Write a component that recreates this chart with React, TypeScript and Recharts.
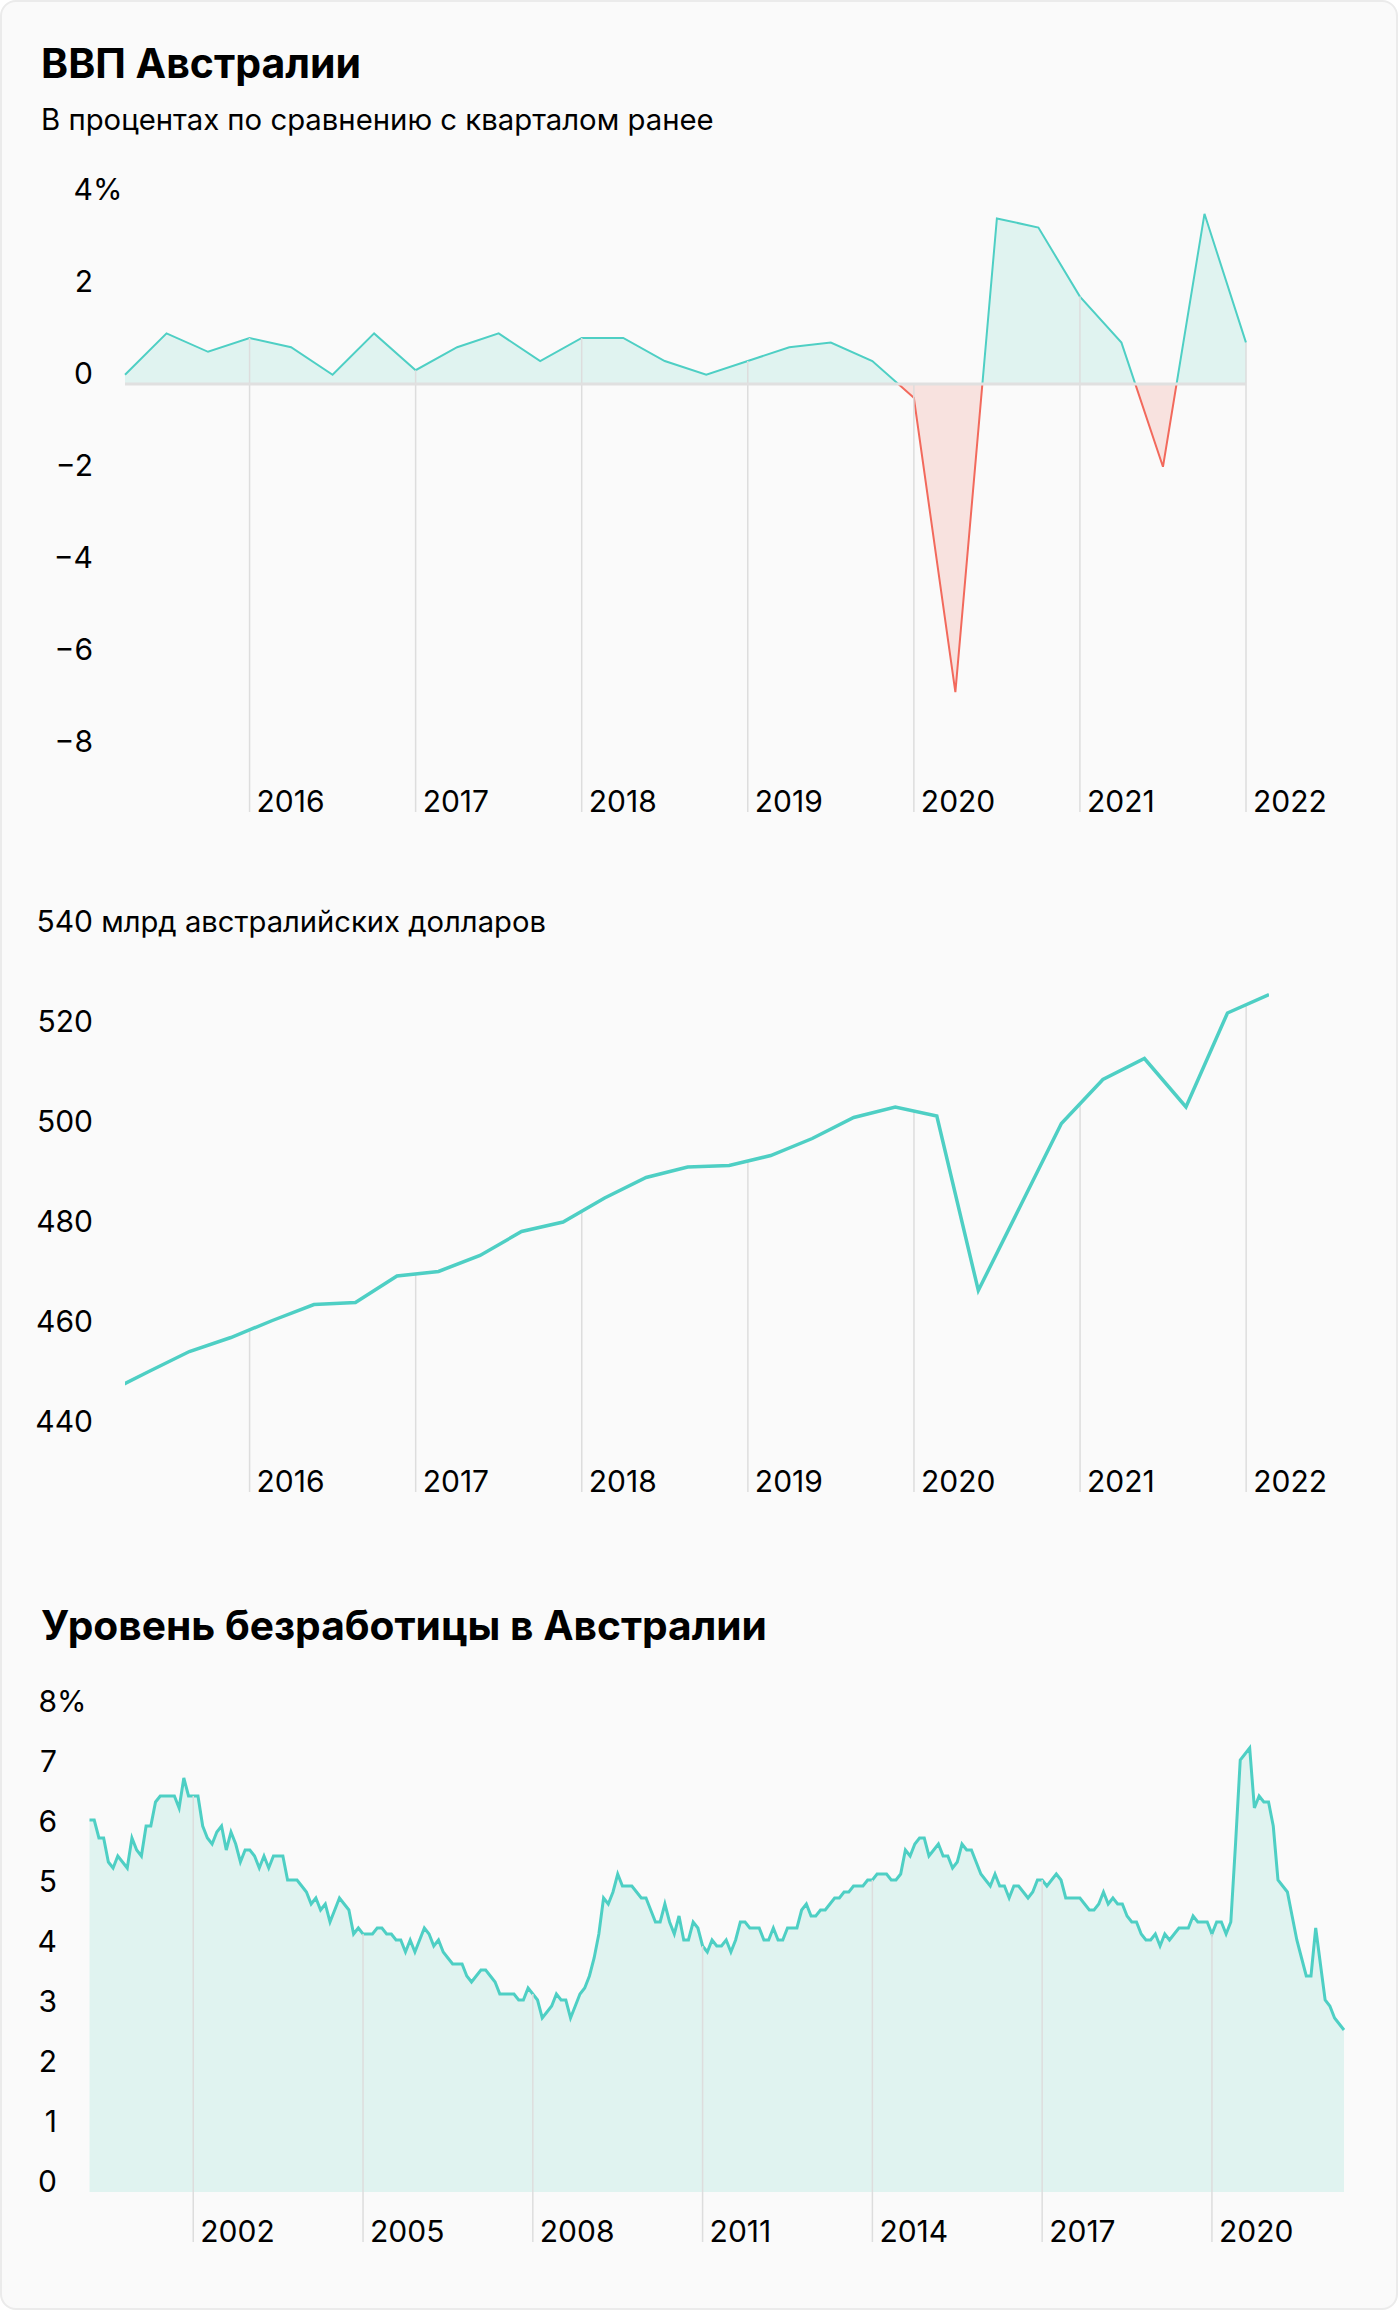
import React from 'react';
import { AreaChart, Area, LineChart, Line, XAxis, YAxis, ReferenceLine } from 'recharts';

const FONT = 'Inter, "Noto Sans", sans-serif';
const TEXT = '#000000';
const TEAL = '#4ecfc4';
const TEAL_FILL = '#e0f3f0';
const RED = '#f2695c';
const RED_FILL = '#f8e2df';
const GRID = '#dddddd';
const ZERO = '#e0e0e0';

// ---- GDP, % q/q ----
const gdpQuarters = [
  '2015 Q2', '2015 Q3', '2015 Q4',
  '2016 Q1', '2016 Q2', '2016 Q3', '2016 Q4',
  '2017 Q1', '2017 Q2', '2017 Q3', '2017 Q4',
  '2018 Q1', '2018 Q2', '2018 Q3', '2018 Q4',
  '2019 Q1', '2019 Q2', '2019 Q3', '2019 Q4',
  '2020 Q1', '2020 Q2', '2020 Q3', '2020 Q4',
  '2021 Q1', '2021 Q2', '2021 Q3', '2021 Q4',
  '2022 Q1',
];
const gdpGrowth = [
  0.2, 1.1, 0.7,
  1.0, 0.8, 0.2, 1.1,
  0.3, 0.8, 1.1, 0.5,
  1.0, 1.0, 0.5, 0.2,
  0.5, 0.8, 0.9, 0.5,
  -0.3, -6.7, 3.6, 3.4,
  1.9, 0.9, -1.8, 3.7,
  0.9,
];
const gdpGrowthTicks = [-8, -6, -4, -2, 0, 2, 4];

// ---- GDP level, bn AUD (dated mid-quarter) ----
const gdpLevelQuarters = [
  '2015 Q1', '2015 Q2', '2015 Q3', '2015 Q4',
  '2016 Q1', '2016 Q2', '2016 Q3', '2016 Q4',
  '2017 Q1', '2017 Q2', '2017 Q3', '2017 Q4',
  '2018 Q1', '2018 Q2', '2018 Q3', '2018 Q4',
  '2019 Q1', '2019 Q2', '2019 Q3', '2019 Q4',
  '2020 Q1', '2020 Q2', '2020 Q3', '2020 Q4',
  '2021 Q1', '2021 Q2', '2021 Q3', '2021 Q4',
  '2022 Q1',
];
const gdpLevel = [
  447.8, 452.0, 456.1, 458.9,
  462.3, 465.5, 465.9, 471.2,
  472.1, 475.3, 480.1, 482.0,
  486.8, 490.9, 493.0, 493.3,
  495.3, 498.7, 502.9, 505.0,
  503.2, 468.3, 485.0, 501.7,
  510.5, 514.7, 505.0, 523.8,
  527.5,
];
const gdpLevelTicks = [440, 460, 480, 500, 520, 540];
const MID_QUARTER = 0.55;

const gdpYears = ['2016', '2017', '2018', '2019', '2020', '2021', '2022'];

// ---- Unemployment, monthly from March 2000 ----
const unemploymentStartYear = 2000;
const unemploymentStartMonth = 3;
const unemployment = [
  6.2, 6.2, 5.9, 5.9, 5.5, 5.4, 5.6, 5.5, 5.4, 5.9, 5.7, 5.6,
  6.1, 6.1, 6.5, 6.6, 6.6, 6.6, 6.6, 6.4, 6.9, 6.6, 6.6, 6.6,
  6.1, 5.9, 5.8, 6.0, 6.1, 5.7, 6.0, 5.8, 5.5, 5.7, 5.7, 5.6,
  5.4, 5.6, 5.4, 5.6, 5.6, 5.6, 5.2, 5.2, 5.2, 5.1, 5.0, 4.8,
  4.9, 4.7, 4.8, 4.5, 4.7, 4.9, 4.8, 4.7, 4.3, 4.4, 4.3, 4.3,
  4.3, 4.4, 4.4, 4.3, 4.3, 4.2, 4.2, 4.0, 4.2, 4.0, 4.2, 4.4,
  4.3, 4.1, 4.2, 4.0, 3.9, 3.8, 3.8, 3.8, 3.6, 3.5, 3.6, 3.7,
  3.7, 3.6, 3.5, 3.3, 3.3, 3.3, 3.3, 3.2, 3.2, 3.4, 3.3, 3.2,
  2.9, 3.0, 3.1, 3.3, 3.2, 3.2, 2.9, 3.1, 3.3, 3.4, 3.6, 3.9,
  4.3, 4.9, 4.8, 5.0, 5.3, 5.1, 5.1, 5.1, 5.0, 4.9, 4.9, 4.7,
  4.5, 4.5, 4.8, 4.5, 4.3, 4.6, 4.2, 4.2, 4.5, 4.4, 4.1, 4.0,
  4.2, 4.1, 4.1, 4.2, 4.0, 4.2, 4.5, 4.5, 4.4, 4.4, 4.4, 4.2,
  4.2, 4.4, 4.2, 4.2, 4.4, 4.4, 4.4, 4.7, 4.8, 4.6, 4.6, 4.7,
  4.7, 4.8, 4.9, 4.9, 5.0, 5.0, 5.1, 5.1, 5.1, 5.2, 5.2, 5.3,
  5.3, 5.3, 5.2, 5.2, 5.3, 5.7, 5.6, 5.8, 5.9, 5.9, 5.6, 5.7,
  5.8, 5.6, 5.6, 5.4, 5.5, 5.8, 5.7, 5.7, 5.5, 5.3, 5.2, 5.1,
  5.3, 5.1, 5.1, 4.9, 5.1, 5.1, 5.0, 4.9, 5.0, 5.2, 5.2, 5.1,
  5.2, 5.3, 5.2, 4.9, 4.9, 4.9, 4.9, 4.8, 4.7, 4.7, 4.8, 5.0,
  4.8, 4.9, 4.8, 4.8, 4.6, 4.5, 4.5, 4.3, 4.2, 4.2, 4.3, 4.1,
  4.3, 4.2, 4.3, 4.4, 4.4, 4.4, 4.6, 4.5, 4.5, 4.5, 4.3, 4.5,
  4.5, 4.3, 4.5, 5.8, 7.2, 7.3, 7.4, 6.4, 6.6, 6.5, 6.5, 6.1,
  5.2, 5.1, 5.0, 4.6, 4.2, 3.9, 3.6, 3.6, 4.4, 3.8, 3.2, 3.1,
  2.9, 2.8, 2.7,
];
const unemploymentTicks = [0, 1, 2, 3, 4, 5, 6, 7, 8];
const unemploymentYears = [2002, 2005, 2008, 2011, 2014, 2017, 2020];

// ---- helpers ----
function quarterIndex(label: string) {
  const [y, q] = label.split(' Q').map(Number);
  return (y - 2015) * 4 + (q - 2);
}

const growthData = gdpQuarters.map((q, i) => ({ t: quarterIndex(q), v: gdpGrowth[i] }));
const levelData = gdpLevelQuarters.map((q, i) => ({ t: quarterIndex(q) + MID_QUARTER, v: gdpLevel[i] }));
const gdpYearTs = gdpYears.map((y) => quarterIndex(`${y} Q1`));
const gdpYearLabels: Record<number, string> = {};
gdpYears.forEach((y, i) => (gdpYearLabels[gdpYearTs[i]] = y));

const unempData = unemployment.map((v, i) => ({ t: i, v }));
const unempYearTs = unemploymentYears.map(
  (y) => (y - unemploymentStartYear) * 12 + (1 - unemploymentStartMonth)
);
const unempYearLabels: Record<number, string> = {};
unemploymentYears.forEach((y, i) => (unempYearLabels[unempYearTs[i]] = String(y)));

function valueAt(points: { t: number; v: number }[], t: number) {
  for (let i = 0; i < points.length - 1; i++) {
    const a = points[i];
    const b = points[i + 1];
    if (a.t <= t && b.t >= t) return a.v + ((t - a.t) / (b.t - a.t)) * (b.v - a.v);
  }
  return points[points.length - 1].v;
}

const growthMax = Math.max(...gdpGrowth);
const growthMin = Math.min(...gdpGrowth);
const zeroOffset = growthMax / (growthMax - growthMin);

const makeYTick = (right: number, topValue: number, suffix: string, suffixSize: number) => (props: any) => {
  const { y, payload } = props;
  const v = payload.value as number;
  const s = v < 0 ? '\u2212' + Math.abs(v) : String(v);
  return (
    <g>
      <text x={right} y={y} textAnchor="end" fontFamily={FONT} fontSize={30} fill={TEXT}>
        {s}
      </text>
      {v === topValue ? (
        <text x={right} y={y} textAnchor="start" fontFamily={FONT} fontSize={suffixSize} fill={TEXT}>
          {suffix}
        </text>
      ) : null}
    </g>
  );
};

const makeXTick = (labels: Record<number, string>) => (props: any) => {
  const { x, y, payload } = props;
  return (
    <text x={x + 7} y={y} textAnchor="start" fontFamily={FONT} fontSize={30} fill={TEXT}>
      {labels[payload.value]}
    </text>
  );
};

const xTickLine = { stroke: GRID, strokeWidth: 1.5 };

function GrowthChart() {
  return (
    <AreaChart width={1400} height={672} data={growthData} margin={{ top: 50, right: 154, bottom: 0, left: 0 }}>
      <defs>
        <linearGradient id="gdpStroke" x1="0" y1="0" x2="0" y2="1">
          <stop offset={zeroOffset} stopColor={TEAL} />
          <stop offset={zeroOffset} stopColor={RED} />
        </linearGradient>
        <linearGradient id="gdpFill" x1="0" y1="0" x2="0" y2="1">
          <stop offset={zeroOffset} stopColor={TEAL_FILL} />
          <stop offset={zeroOffset} stopColor={RED_FILL} />
        </linearGradient>
      </defs>
      <XAxis
        dataKey="t"
        type="number"
        domain={[0, 'dataMax']}
        ticks={gdpYearTs}
        interval={0}
        axisLine={false}
        tickLine={xTickLine}
        tickSize={60}
        tickMargin={0}
        height={70}
        tick={makeXTick(gdpYearLabels)}
      />
      <YAxis
        type="number"
        domain={[-8, 4]}
        ticks={gdpGrowthTicks}
        interval={0}
        width={125}
        axisLine={false}
        tickLine={false}
        tick={makeYTick(93, 4, '%', 30)}
      />
      <Area
        type="linear"
        dataKey="v"
        stroke="url(#gdpStroke)"
        strokeWidth={2}
        fill="url(#gdpFill)"
        fillOpacity={1}
        dot={false}
        activeDot={false}
        isAnimationActive={false}
      />
      {gdpYearTs.map((t) => (
        <ReferenceLine
          key={t}
          segment={[
            { x: t, y: Math.max(valueAt(growthData, t), 0) },
            { x: t, y: -8 },
          ]}
          stroke={GRID}
          strokeWidth={1.5}
        />
      ))}
      <ReferenceLine y={0} stroke={ZERO} strokeWidth={3} />
    </AreaChart>
  );
}

function LevelChart() {
  return (
    <LineChart width={1400} height={620} data={levelData} margin={{ top: 50, right: 131, bottom: 0, left: 0 }}>
      <XAxis
        dataKey="t"
        type="number"
        domain={[0, 'dataMax']}
        allowDataOverflow
        ticks={gdpYearTs}
        interval={0}
        axisLine={false}
        tickLine={xTickLine}
        tickSize={60}
        tickMargin={0}
        height={70}
        tick={makeXTick(gdpYearLabels)}
      />
      <YAxis
        type="number"
        domain={[440, 540]}
        ticks={gdpLevelTicks}
        interval={0}
        width={125}
        axisLine={false}
        tickLine={false}
        tick={makeYTick(93, 540, '\u00a0млрд австралийских долларов', 29.2)}
      />
      {gdpYearTs.map((t) => (
        <ReferenceLine
          key={t}
          segment={[
            { x: t, y: valueAt(levelData, t) },
            { x: t, y: 440 },
          ]}
          stroke={GRID}
          strokeWidth={1.5}
        />
      ))}
      <Line
        type="linear"
        dataKey="v"
        stroke={TEAL}
        strokeWidth={3.5}
        dot={false}
        activeDot={false}
        isAnimationActive={false}
      />
    </LineChart>
  );
}

function UnemploymentChart() {
  return (
    <AreaChart width={1400} height={590} data={unempData} margin={{ top: 50, right: 56, bottom: 0, left: 0 }}>
      <XAxis
        dataKey="t"
        type="number"
        domain={[0, 'dataMax']}
        ticks={unempYearTs}
        interval={0}
        axisLine={false}
        tickLine={xTickLine}
        tickSize={50}
        tickMargin={0}
        height={60}
        tick={makeXTick(unempYearLabels)}
      />
      <YAxis
        type="number"
        domain={[0, 8]}
        ticks={unemploymentTicks}
        interval={0}
        width={89.5}
        axisLine={false}
        tickLine={false}
        tick={makeYTick(57, 8, '%', 30)}
      />
      <Area
        type="linear"
        dataKey="v"
        stroke={TEAL}
        strokeWidth={3}
        fill={TEAL_FILL}
        fillOpacity={1}
        dot={false}
        activeDot={false}
        isAnimationActive={false}
      />
      {unempYearTs.map((t) => (
        <ReferenceLine
          key={t}
          segment={[
            { x: t, y: valueAt(unempData, t) },
            { x: t, y: 0 },
          ]}
          stroke={GRID}
          strokeWidth={1.5}
        />
      ))}
    </AreaChart>
  );
}

export default function App() {
  return (
    <div style={{ position: 'relative', width: 1400, height: 2312, fontFamily: FONT }}>
      <style>{`body{margin:0;background:#ffffff;}`}</style>
      <div
        style={{
          position: 'absolute',
          left: 0,
          top: 0,
          width: 1398,
          height: 2310,
          boxSizing: 'border-box',
          border: '2px solid #ebebeb',
          borderRadius: 16,
          background: '#fafafa',
        }}
      />
      <svg width={1400} height={2312} style={{ position: 'absolute', left: 0, top: 0 }}>
        <text x={41} y={78} fontFamily={FONT} fontSize={41} fontWeight={700} fill={TEXT}>
          ВВП Австралии
        </text>
        <text x={41} y={130} fontFamily={FONT} fontSize={29.3} fill={TEXT}>
          В процентах по сравнению с кварталом ранее
        </text>
        <text x={41} y={1640} fontFamily={FONT} fontSize={40.7} fontWeight={700} fill={TEXT}>
          Уровень безработицы в Австралии
        </text>
      </svg>
      <div style={{ position: 'absolute', left: 0, top: 150 }}>
        <GrowthChart />
      </div>
      <div style={{ position: 'absolute', left: 0, top: 881.7 }}>
        <LevelChart />
      </div>
      <div style={{ position: 'absolute', left: 0, top: 1661.7 }}>
        <UnemploymentChart />
      </div>
    </div>
  );
}
